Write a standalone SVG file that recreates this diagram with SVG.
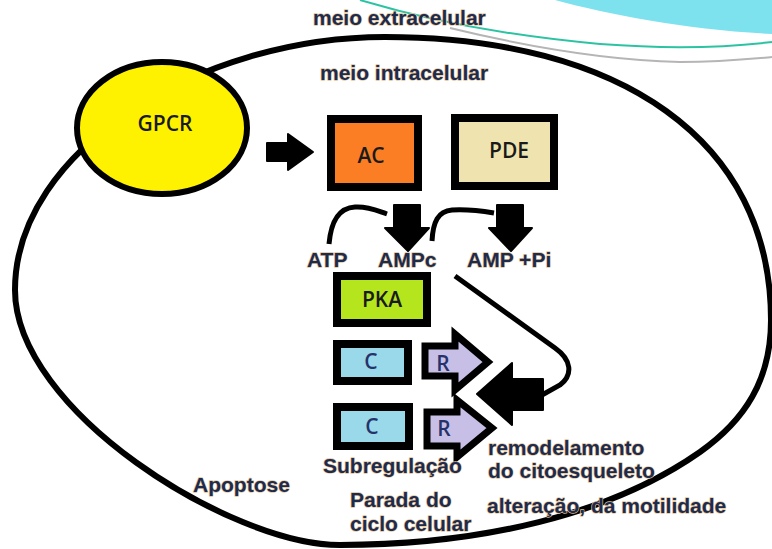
<svg xmlns="http://www.w3.org/2000/svg" width="772" height="549" viewBox="0 0 772 549">
  <style>
    .lbl { font-family: "Liberation Sans", Arial, sans-serif; font-weight: bold; font-size: 21px; fill: #1d2b4f; stroke: #e6c595; stroke-width: 1.3; paint-order: stroke; stroke-linejoin: round; }
    .box { stroke: #000; stroke-width: 8; }
    .btxt { font-family: "Open Sans", "Liberation Sans", sans-serif; font-size: 21px; font-weight: 600; fill: #1a1a1a; text-anchor: middle; }
    .rtxt { font-family: "Open Sans", "Liberation Sans", sans-serif; font-size: 21px; font-weight: 600; fill: #26336a; text-anchor: middle; }
    .blk { fill: #000; stroke: #000; stroke-width: 2; stroke-linejoin: round; }
    .line { fill: none; stroke: #000; stroke-width: 5; }
    .rarrow { fill: #c8bfe7; stroke: #000; stroke-width: 7; stroke-linejoin: miter; }
  </style>

  <rect x="0" y="0" width="772" height="549" fill="#fff"/>

  <g id="decoration">
    <path d="M555,0 C610,15 690,30 772,34 L772,0 Z" fill="#7de1ee"/>
    <path d="M360,0 C420,18 500,35 600,44 C680,50 730,47 772,42" fill="none" stroke="#2cc3a2" stroke-width="2"/>
    <path d="M450,28 C520,45 600,60 680,62 C720,62 750,59 772,57" fill="none" stroke="#b5b5b5" stroke-width="2"/>
  </g>

  <g id="cell">
    <path d="M15,290 C15,150 200,37 385,37 C620,37 771,140 771,320 C771,380 745,420 700,452 C610,515 480,545 340,545 C230,545 15,410 15,290 Z" fill="none" stroke="#000" stroke-width="6"/>
  </g>

  <g id="labels-medium">
    <text class="lbl" x="313" y="25">meio extracelular</text>
    <text class="lbl" x="320" y="80">meio intracelular</text>
  </g>

  <g id="connectors">
    <path class="blk" d="M267,143 H288 V134 L313,152 L288,170 V161 H267 Z"/>
    <path class="line" d="M329,244 C331,222 338,208 355,207 C368,206 378,211 387,214"/>
    <path class="blk" d="M394,205 H420 V228 H429 L408,251 L385,228 H394 Z"/>
    <path class="line" d="M432,241 C433,222 438,211 452,210 C468,209 482,211 494,213"/>
    <path class="blk" d="M497,205 H523 V228 H532 L511,251 L489,228 H497 Z"/>
    <path class="line" d="M455,276 L555,348 C572,360 573,375 560,385 L542,395"/>
    <path class="blk" d="M477,394 L512,363 V379 H543 V410 H512 V425 Z"/>
  </g>

  <g id="GPCR">
    <ellipse cx="162" cy="128" rx="85" ry="66" fill="#fff200" stroke="#000" stroke-width="6"/>
    <text class="btxt" x="165" y="131">GPCR</text>
  </g>

  <g id="AC">
    <rect class="box" x="331" y="119" width="87" height="68" fill="#fb7e24"/>
    <text class="btxt" x="371" y="163">AC</text>
  </g>

  <g id="PDE">
    <rect class="box" x="455" y="118" width="99" height="68" fill="#efe4b0"/>
    <text class="btxt" x="509" y="158">PDE</text>
  </g>

  <g id="ATP"><text class="lbl" x="307" y="267">ATP</text></g>
  <g id="AMPc"><text class="lbl" x="378" y="267">AMPc</text></g>
  <g id="AMP-Pi"><text class="lbl" x="467" y="267">AMP +Pi</text></g>

  <g id="PKA">
    <rect class="box" x="337" y="276" width="90" height="47" fill="#b5e61d"/>
    <text class="btxt" x="382" y="307">PKA</text>
  </g>

  <g id="C1">
    <rect class="box" x="337" y="344" width="71" height="37" fill="#99d9ea"/>
    <text class="rtxt" x="371" y="369">C</text>
  </g>
  <g id="C2">
    <rect class="box" x="337" y="407" width="72" height="39" fill="#99d9ea"/>
    <text class="rtxt" x="372" y="434">C</text>
  </g>

  <g id="R1">
    <path class="rarrow" d="M425,346 H455 V334 L488,362 L455,390 V376 H425 Z"/>
    <text class="rtxt" x="443" y="371">R</text>
  </g>
  <g id="R2">
    <path class="rarrow" d="M427,412 H457 V400 L492,428 L457,457 V446 H427 Z"/>
    <text class="rtxt" x="444" y="436">R</text>
  </g>

  <g id="outcomes">
    <text class="lbl" x="488" y="455">remodelamento</text>
    <text class="lbl" x="488" y="478">do citoesqueleto</text>
    <text class="lbl" x="323" y="473">Subregulação</text>
    <text class="lbl" x="193" y="492">Apoptose</text>
    <text class="lbl" x="350" y="507">Parada do</text>
    <text class="lbl" x="350" y="531">ciclo celular</text>
    <text class="lbl" x="487" y="513">alteração, da motilidade</text>
  </g>
</svg>
